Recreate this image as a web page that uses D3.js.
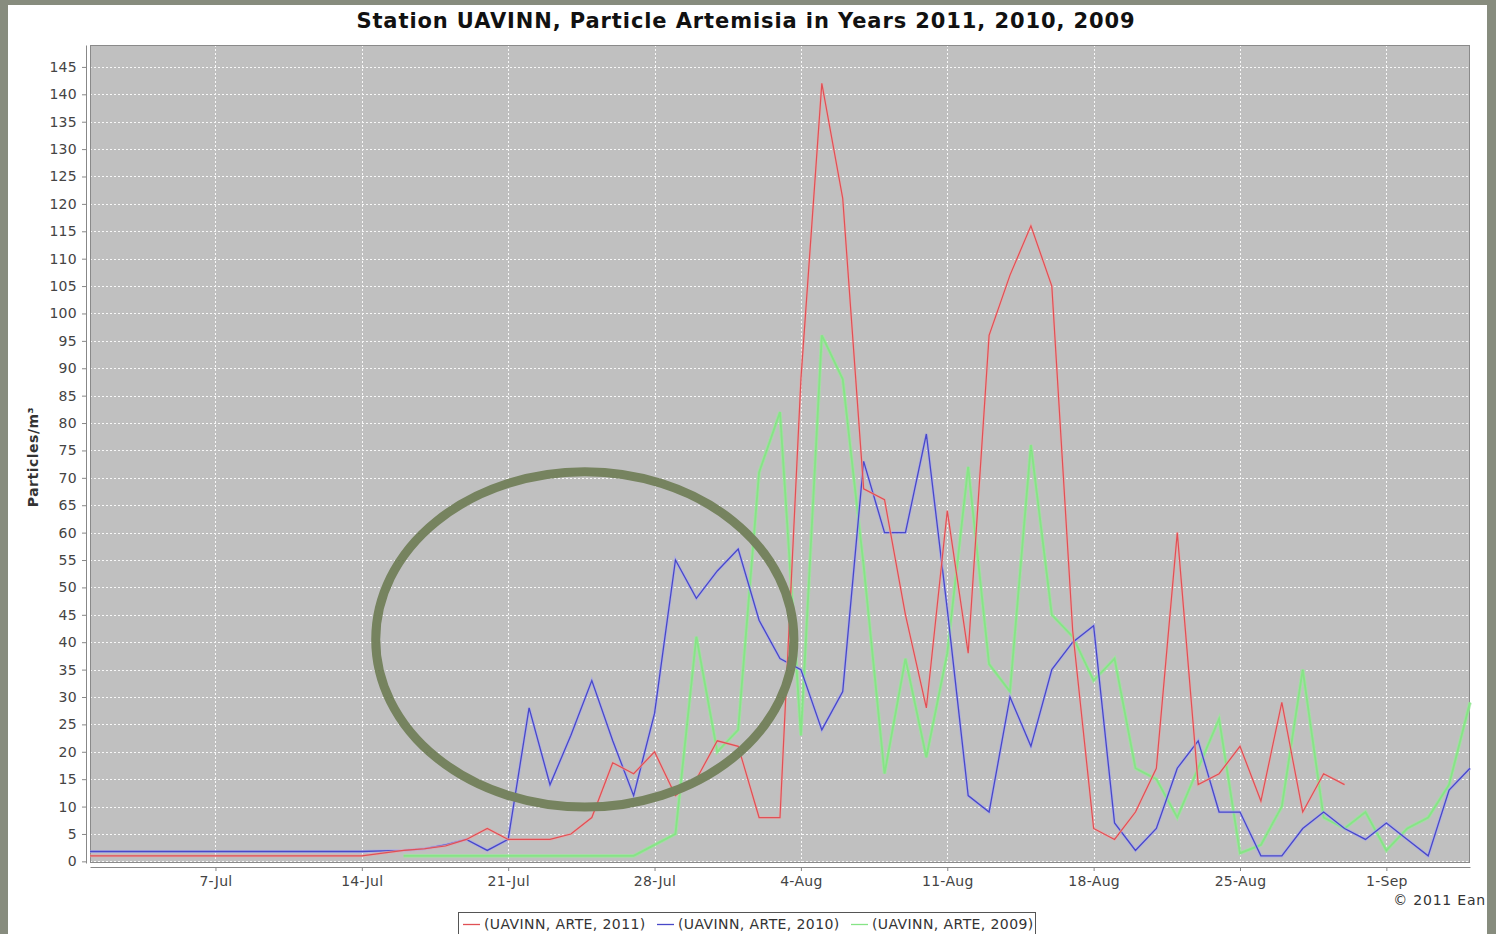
<!DOCTYPE html>
<html>
<head>
<meta charset="utf-8">
<script src="https://cdn.jsdelivr.net/npm/d3@7"></script>
<style>
  body { margin: 0; background: #878c7e; }
  svg { display: block; }
</style>
</head>
<body>
<svg id="chart" width="1496" height="934"></svg>
<script>
// data, one value per day starting 1-Jul (null = no reading)
const firstDay = new Date(2011, 6, 1);
const lastDay = new Date(2011, 8, 5);

const series2011 = [
  1, 1, 1, 1, 1, 1, 1, 1, 1, 1, 1, 1, 1, 1,
  1.5, 2, 2.3, 2.8, 4, 6, 4, 4, 4, 5, 8, 18, 16, 20, 12, 15, 22,
  21, 8, 8, 88, 142, 121, 68, 66, 45, 28, 64, 38, 96, 107, 116, 105, 42,
  6, 4, 9, 17, 60, 14, 16, 21, 11, 29, 9, 16, 14, null,
  null, null, null, null, null
];
const series2010 = [
  1.8, 1.8, 1.8, 1.8, 1.8, 1.8, 1.8, 1.8, 1.8, 1.8, 1.8, 1.8, 1.8, 1.8,
  1.9, 2, 2.3, 3, 4, 2, 4, 28, 14, 23, 33, 22, 12, 27, 55, 48, 53,
  57, 44, 37, 35, 24, 31, 73, 60, 60, 78, 46, 12, 9, 30, 21, 35, 40,
  43, 7, 2, 6, 17, 22, 9, 9, 1, 1, 6, 9, 6, 4,
  7, 4, 1, 13, 17
];
const series2009 = [
  null, null, null, null, null, null, null, null, null, null, null, null, null, null,
  null, 1, 1, 1, 1, 1, 1, 1, 1, 1, 1, 1, 1, 3, 5, 41, 20,
  24, 71, 82, 23, 96, 88, 54, 16, 37, 19, 38, 72, 36, 31, 76, 45, 41,
  33, 37, 17, 15, 8, 17, 26, 1.5, 3, 10, 35, 8, 6, 9,
  2, 6, 8, 14, 29
];

const seriesNames = ["(UAVINN, ARTE, 2011)", "(UAVINN, ARTE, 2010)", "(UAVINN, ARTE, 2009)"];
const yTicks = [0, 5, 10, 15, 20, 25, 30, 35, 40, 45, 50, 55, 60, 65, 70, 75,
  80, 85, 90, 95, 100, 105, 110, 115, 120, 125, 130, 135, 140, 145];
const xTicks = ["2011-07-07", "2011-07-14", "2011-07-21", "2011-07-28", "2011-08-04",
  "2011-08-11", "2011-08-18", "2011-08-25", "2011-09-01"];

// marked region (centre day/value, half widths)
const highlight = { day: "2011-07-25", value: 40.5, halfDays: 10.3, halfValue: 30.6 };

const svg = d3.select("#chart");
const parse = d3.timeParse("%Y-%m-%d");
const fmt = d3.timeFormat("%-d-%b");
const font = "'DejaVu Sans', sans-serif";

const plot = { left: 90, right: 1470, top: 45, bottom: 863 };

const x = d3.scaleTime().domain([firstDay, lastDay]).range([plot.left, plot.right]);
const y = d3.scaleLinear().domain([-0.3, 149]).range([plot.bottom, plot.top]);

// background panel
svg.append("rect").attr("x", 8).attr("y", 5).attr("width", 1479).attr("height", 940)
  .attr("fill", "#ffffff");

// plot background
svg.append("rect")
  .attr("x", plot.left).attr("y", plot.top)
  .attr("width", plot.right - plot.left).attr("height", plot.bottom - plot.top)
  .attr("fill", "#c0c0c0");

// grid
const grid = svg.append("g").attr("stroke", "#ffffff").attr("stroke-dasharray", "2,2")
  .attr("stroke-width", 1).attr("opacity", 0.9);
grid.selectAll(".h").data(yTicks).join("line")
  .attr("x1", plot.left).attr("x2", plot.right)
  .attr("y1", d => Math.round(y(d)) + 0.5).attr("y2", d => Math.round(y(d)) + 0.5);
grid.selectAll(".v").data(xTicks).join("line")
  .attr("y1", plot.top).attr("y2", plot.bottom)
  .attr("x1", d => Math.round(x(parse(d))) + 0.5).attr("x2", d => Math.round(x(parse(d))) + 0.5);

svg.append("rect")
  .attr("x", plot.left + 0.5).attr("y", plot.top + 0.5)
  .attr("width", plot.right - plot.left - 1).attr("height", plot.bottom - plot.top - 1)
  .attr("fill", "none").attr("stroke", "#8a8a8a");

// lines
const days = series2011.map((d, i) => d3.timeDay.offset(firstDay, i));
const line = d3.line()
  .defined(d => d[1] != null)
  .x(d => x(d[0]))
  .y(d => y(d[1]));

const styles = [
  { data: series2009, halo: "#9aea9a", haloW: 3.6, core: "#86e486", coreW: 1.8 },
  { data: series2010, halo: "#a8a8ee", haloW: 3, core: "#4848c8", coreW: 1.3 },
  { data: series2011, halo: "#eaa6a6", haloW: 2.6, core: "#e05055", coreW: 1.2 }
];
const lines = svg.append("g").attr("fill", "none").attr("stroke-linejoin", "miter");
styles.forEach(s => {
  const pts = s.data.map((v, i) => [days[i], v]);
  lines.append("path").attr("d", line(pts)).attr("stroke", s.halo)
    .attr("stroke-width", s.haloW).attr("opacity", 0.7);
  lines.append("path").attr("d", line(pts)).attr("stroke", s.core)
    .attr("stroke-width", s.coreW);
});

// highlight ellipse
const hd = parse(highlight.day);
svg.append("ellipse")
  .attr("cx", x(hd) - 7)
  .attr("cy", y(highlight.value))
  .attr("rx", x(d3.timeDay.offset(firstDay, highlight.halfDays)) - x(firstDay))
  .attr("ry", y(0) - y(highlight.halfValue))
  .attr("fill", "none").attr("stroke", "#76835f").attr("stroke-width", 9);

// axes
const yAxis = svg.append("g").attr("transform", "translate(86,0)")
  .call(d3.axisLeft(y).tickValues(yTicks).tickSize(4).tickSizeOuter(0).tickPadding(5));
const xAxis = svg.append("g").attr("transform", "translate(0,867)")
  .call(d3.axisBottom(x).tickValues(xTicks.map(parse)).tickFormat(fmt)
    .tickSize(4).tickSizeOuter(0).tickPadding(5));
[yAxis, xAxis].forEach(a => {
  a.select(".domain").attr("stroke", "#888888");
  a.selectAll(".tick line").attr("stroke", "#888888");
  a.selectAll(".tick text").attr("fill", "#444444")
    .style("font-family", font).style("font-size", "14px").style("letter-spacing", "0.3px");
});

// title and labels
svg.append("text").attr("x", 746).attr("y", 28).attr("text-anchor", "middle")
  .style("font-family", font).style("font-weight", "bold")
  .style("font-size", "21px").style("letter-spacing", "0.9px")
  .attr("fill", "#111").text("Station UAVINN, Particle Artemisia in Years 2011, 2010, 2009");

svg.append("text").attr("transform", "translate(38,457) rotate(-90)").attr("text-anchor", "middle")
  .style("font-family", font).style("font-weight", "bold")
  .style("font-size", "14px").style("letter-spacing", "0.5px")
  .attr("fill", "#333").text("Particles/m³");

svg.append("text").attr("x", 1486).attr("y", 905).attr("text-anchor", "end")
  .style("font-family", font).style("font-size", "14px").style("letter-spacing", "0.8px")
  .attr("fill", "#333").text("© 2011 Ean");

// legend
const legend = svg.append("g");
legend.append("rect").attr("x", 458.5).attr("y", 912.5).attr("width", 577).attr("height", 30)
  .attr("fill", "#ffffff").attr("stroke", "#555555");
const legendColors = ["#e05055", "#4848c8", "#86e486"];
const legendX = [463, 657, 851];
seriesNames.forEach((n, i) => {
  legend.append("line").attr("x1", legendX[i]).attr("x2", legendX[i] + 17)
    .attr("y1", 924.5).attr("y2", 924.5).attr("stroke", legendColors[i]).attr("stroke-width", 1.3);
  legend.append("text").attr("x", legendX[i] + 21).attr("y", 929)
    .style("font-family", font).style("font-size", "14px").style("letter-spacing", "0.4px")
    .attr("fill", "#333").text(n);
});
</script>
</body>
</html>
